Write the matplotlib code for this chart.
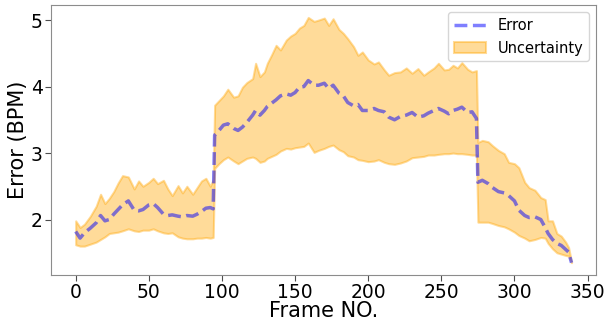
import numpy as np
import matplotlib
matplotlib.use("Agg")
import matplotlib.pyplot as plt

frames = [0, 3, 6, 10, 14, 17, 20, 23, 26, 29, 32, 36, 40, 43, 46, 50, 53, 56, 60, 63,
          66, 70, 73, 76, 80, 83, 86, 89, 92, 94,
          95, 98, 101, 104, 108, 111, 114, 117, 121, 123, 126, 129, 131, 134, 137, 140, 144, 147, 150, 153,
          156, 159, 163, 166, 170, 173, 176, 180, 183, 186, 190, 193, 196, 200, 204, 207, 211, 214, 218, 222,
          226, 230, 234, 238, 241, 245, 248, 252, 255, 258, 261, 264, 268, 271, 274,
          275, 278, 282, 285, 289, 293, 296, 300, 303, 307, 310, 314, 318, 321, 323, 326, 329, 332, 335, 337, 339]

error = [1.82, 1.72, 1.80, 1.87, 1.95, 2.06, 1.98, 2.00, 2.08, 2.15, 2.22, 2.28, 2.14, 2.13, 2.15, 2.22, 2.24, 2.18, 2.08, 2.06,
         2.07, 2.05, 2.04, 2.06, 2.05, 2.08, 2.12, 2.17, 2.18, 2.16,
         3.27, 3.34, 3.42, 3.44, 3.37, 3.34, 3.39, 3.46, 3.57, 3.64, 3.57, 3.64, 3.70, 3.75, 3.80, 3.86, 3.89, 3.87, 3.91, 3.99,
         4.00, 4.09, 4.02, 4.02, 4.05, 3.97, 4.02, 3.90, 3.86, 3.76, 3.71, 3.73, 3.64, 3.64, 3.67, 3.64, 3.62, 3.54, 3.50, 3.55,
         3.57, 3.61, 3.54, 3.56, 3.60, 3.64, 3.67, 3.63, 3.59, 3.64, 3.66, 3.69, 3.61, 3.62, 3.52,
         2.56, 2.59, 2.54, 2.48, 2.42, 2.40, 2.36, 2.28, 2.14, 2.06, 2.03, 2.04, 2.00, 1.88, 1.79, 1.70, 1.64, 1.61, 1.55, 1.51, 1.35]

upper = [1.98, 1.88, 1.93, 2.05, 2.20, 2.38, 2.24, 2.32, 2.42, 2.55, 2.66, 2.64, 2.46, 2.58, 2.50, 2.56, 2.62, 2.54, 2.59, 2.46,
         2.36, 2.51, 2.40, 2.50, 2.38, 2.48, 2.58, 2.62, 2.50, 2.60,
         3.72, 3.79, 3.86, 3.96, 3.84, 3.86, 3.99, 4.06, 4.12, 4.35, 4.15, 4.22, 4.35, 4.48, 4.62, 4.55, 4.70, 4.76, 4.80, 4.88,
         4.92, 5.04, 4.98, 5.00, 5.03, 4.92, 5.02, 4.86, 4.80, 4.72, 4.60, 4.47, 4.52, 4.40, 4.34, 4.37, 4.25, 4.17, 4.21, 4.22,
         4.28, 4.20, 4.27, 4.17, 4.22, 4.28, 4.35, 4.25, 4.26, 4.32, 4.28, 4.36, 4.26, 4.22, 4.24,
         3.16, 3.19, 3.17, 3.11, 3.04, 2.99, 2.86, 2.84, 2.78, 2.56, 2.48, 2.44, 2.33, 2.30, 1.98, 1.98, 1.79, 1.75, 1.66, 1.58, 1.36]

lower = [1.62, 1.60, 1.60, 1.63, 1.66, 1.70, 1.74, 1.79, 1.80, 1.81, 1.83, 1.86, 1.83, 1.82, 1.84, 1.84, 1.86, 1.83, 1.80, 1.79,
         1.80, 1.74, 1.72, 1.71, 1.71, 1.72, 1.72, 1.73, 1.72, 1.73,
         2.77, 2.84, 2.90, 2.94, 2.88, 2.84, 2.88, 2.92, 2.94, 2.92, 2.86, 2.88, 2.92, 2.95, 2.98, 3.03, 3.07, 3.06, 3.08, 3.09,
         3.10, 3.15, 3.01, 3.04, 3.07, 3.10, 3.12, 3.05, 3.02, 2.96, 2.94, 2.90, 2.89, 2.87, 2.88, 2.90, 2.86, 2.84, 2.83, 2.85,
         2.88, 2.93, 2.94, 2.95, 2.97, 2.97, 2.98, 2.99, 2.99, 3.00, 2.99, 2.99, 2.98, 2.97, 2.97,
         1.96, 1.96, 1.96, 1.94, 1.91, 1.89, 1.86, 1.81, 1.76, 1.72, 1.68, 1.70, 1.73, 1.72, 1.64, 1.56, 1.50, 1.48, 1.46, 1.45, 1.35]

fig = plt.figure(figsize=(6.06, 3.22), dpi=100)
ax = fig.add_axes([0.084, 0.146, 0.900, 0.838])

ax.plot(frames, error, "--", color="blue", alpha=0.5, lw=2.5, label="Error")
ax.fill_between(frames, lower, upper, color="orange", alpha=0.4, lw=1.5, label="Uncertainty")

ax.set_xticks([0, 50, 100, 150, 200, 250, 300, 350])
ax.set_yticks([2, 3, 4, 5])
ax.tick_params(labelsize=13.5, length=4, color="0.3", pad=2)
ax.set_xlabel("Frame NO.", fontsize=15, labelpad=-1)
ax.set_ylabel("Error (BPM)", fontsize=15, labelpad=2)
for s in ax.spines.values():
    s.set_color("0.55")

ax.legend(loc="upper right", fontsize=10.5, handlelength=2.2)

fig.savefig("out.png", dpi=100)
